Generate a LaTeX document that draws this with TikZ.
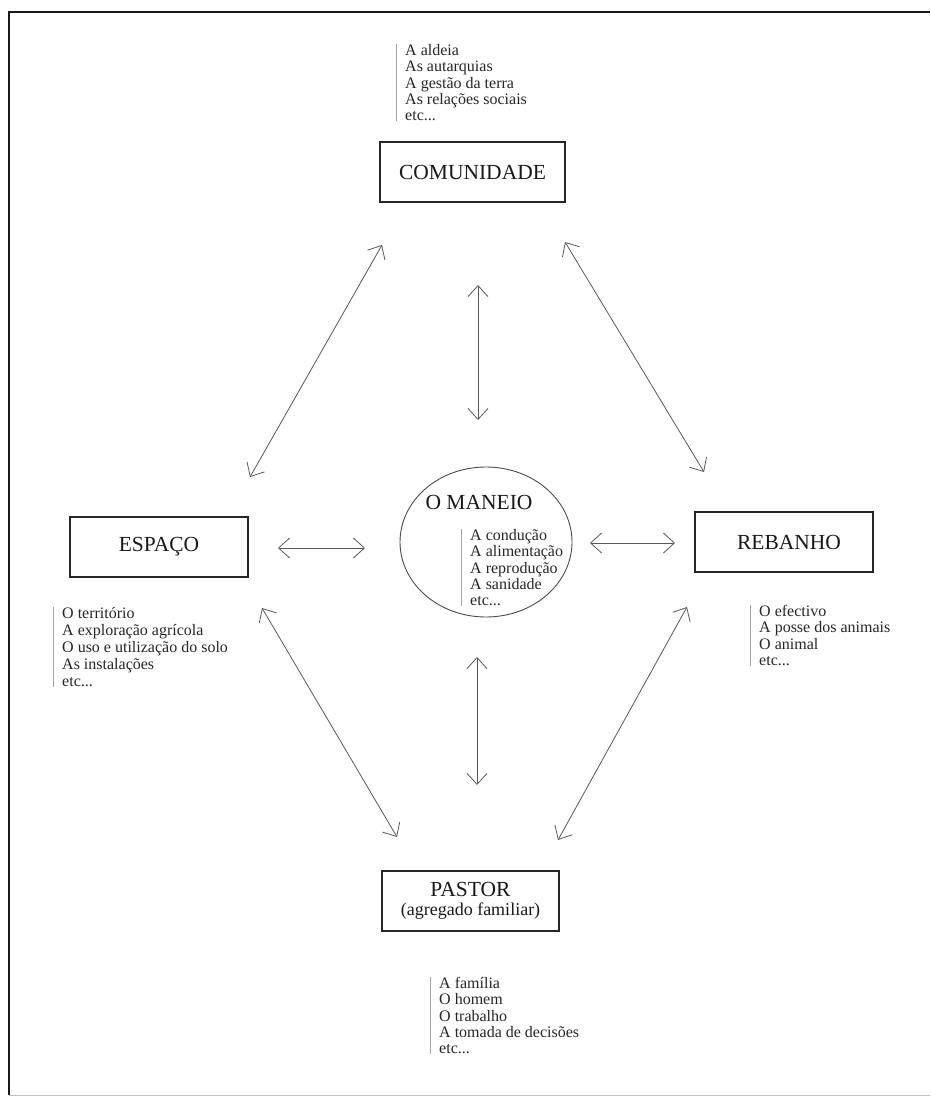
\documentclass[tikz,border=0pt]{standalone}
\usepackage{fontspec}
\setmainfont{Liberation Serif}
\usetikzlibrary{arrows.meta,shapes.geometric}
\begin{document}
\begin{tikzpicture}[x=1pt,y=-1pt,
  box/.style={draw=black!85, line width=1.1pt, minimum width=#1, minimum height=60pt, inner sep=0pt, font=\fontsize{21.5}{22}\selectfont, text=black!90},
  lst/.style={anchor=north west, inner sep=0pt, align=left, font=\fontsize{16}{16.3}\selectfont, text=black!85},
  bar/.style={draw=black!35, line width=0.8pt},
  link/.style={draw=black!65, line width=0.8pt, {Straight Barb[length=11pt,width=20pt]}-{Straight Barb[length=11pt,width=20pt]}},
  frame/.style={draw=black!90, line width=1.8pt},
  faint/.style={draw=black!25, line width=1pt}
]
\useasboundingbox (0,0) rectangle (930,1097);

% frame
\coordinate (ftr) at (930,12);
\coordinate (ftl) at (9,12);
\coordinate (fbl) at (9,1095);
\coordinate (fbr) at (930,1095);
\draw[frame] (ftr) -- (ftl) -- (fbl);
\draw[faint] (fbl) -- (fbr);

% main boxes
\node[box=185] (com) at (472.5,172) {COMUNIDADE};
\node[box=178] (esp) at (159,547) {ESPAÇO};
\node[box=178] (reb) at (784,542) {\hspace*{10pt}REBANHO};
\node[box=177, align=center] (pas) at (470.5,901) {PASTOR\\[-3pt]{\fontsize{18}{18}\selectfont(agregado familiar)}};

% centre
\node[ellipse, draw=black!70, line width=0.9pt, minimum width=172pt, minimum height=150pt, inner sep=0pt] (man) at (486,542) {};
\node[font=\fontsize{21.5}{22}\selectfont, text=black!90, inner sep=0pt] (mant) at (479,502) {O MANEIO};

% lists
\node[lst] (lcom) at (405,44) {\strut A aldeia\\As autarquias\\A gestão da terra\\As relações sociais\\etc...};
\node[lst] (lman) at (470,529) {\strut A condução\\A alimentação\\A reprodução\\A sanidade\\etc...};
\node[lst, font=\fontsize{16}{16.8}\selectfont] (lesp) at (62,607) {\strut O território\\A exploração agrícola\\O uso e utilização do solo\\As instalações\\etc...};
\node[lst] (lreb) at (759,605) {\strut O efectivo\\A posse dos animais\\O animal\\etc...};
\node[lst] (lpas) at (439,977) {\strut A família\\O homem\\O trabalho\\A tomada de decisões\\etc...};

\foreach \n in {lcom,lman,lesp,lreb,lpas}{
  \draw[bar] ([xshift=-9pt]\n.north west) -- ([xshift=-9pt]\n.south west);
}

% connectors
\coordinate (a1) at (382,245); \coordinate (a2) at (250,477);
\coordinate (b1) at (565,242); \coordinate (b2) at (704,472);
\coordinate (c1) at (478,285); \coordinate (c2) at (478,420);
\coordinate (d1) at (278,548); \coordinate (d2) at (365,548);
\coordinate (e1) at (590,543); \coordinate (e2) at (675,543);
\coordinate (g1) at (262,608); \coordinate (g2) at (397,837);
\coordinate (h1) at (687,607); \coordinate (h2) at (558,840);
\coordinate (k1) at (477,657); \coordinate (k2) at (477,785);
\draw[link] (a1) -- (a2);
\draw[link] (b1) -- (b2);
\draw[link] (c1) -- (c2);
\draw[link] (d1) -- (d2);
\draw[link] (e1) -- (e2);
\draw[link] (g1) -- (g2);
\draw[link] (h1) -- (h2);
\draw[link] (k1) -- (k2);
\end{tikzpicture}
\end{document}
